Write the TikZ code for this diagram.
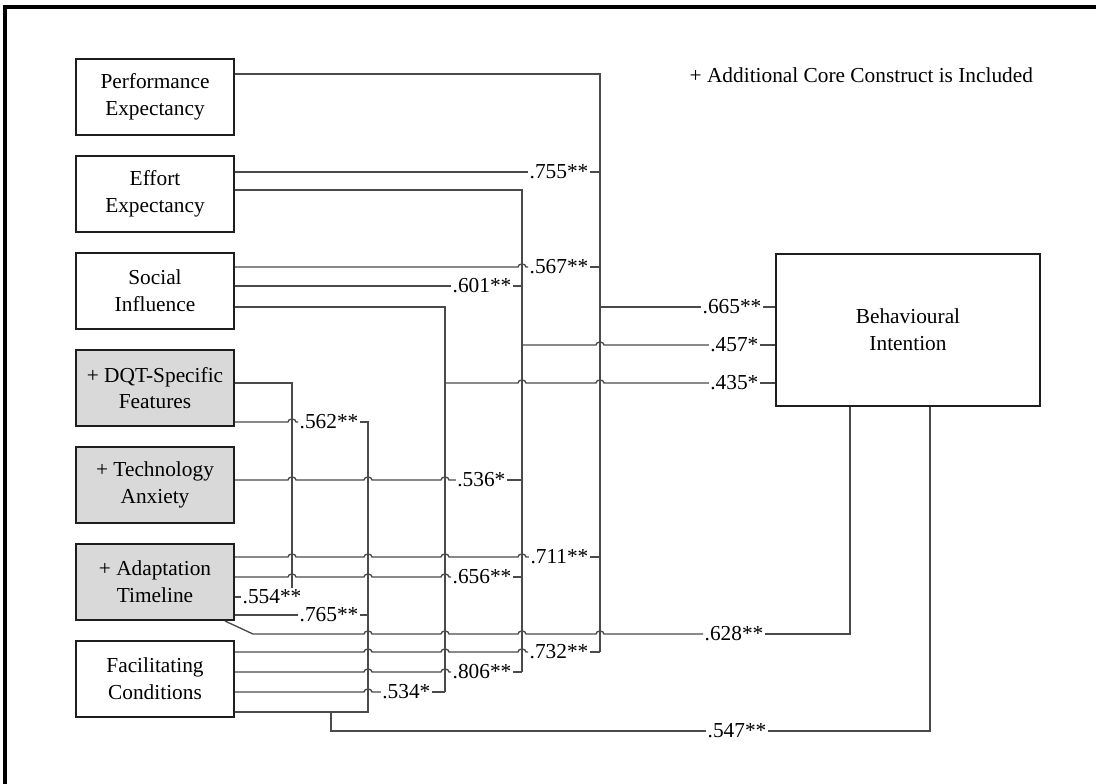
\documentclass[tikz,border=0pt]{standalone}
\usepackage{fontspec}
\setmainfont{Liberation Serif}
\usetikzlibrary{calc,positioning}
\definecolor{Ink}{HTML}{1E1E1E}
\definecolor{Wire}{HTML}{4A4A4A}
\definecolor{Shade}{HTML}{D9D9D9}
\tikzset{
  construct/.style={
    draw=Ink, line width=1.6pt, fill=white, align=center,
    minimum width=118.5pt, minimum height=57pt, inner sep=2pt,
    font=\fontsize{16}{20}\selectfont
  },
  added/.style={construct, fill=Shade},
  outcome/.style={construct, minimum width=198.5pt, minimum height=113.5pt},
  wire/.style={draw=Wire, line width=1pt},
  coef/.style={anchor=east, inner sep=1pt, font=\fontsize{16}{18}\selectfont},
  hop/.style={start angle=180, end angle=0, x radius=3pt, y radius=2.3pt}
}
\begin{document}
\begin{tikzpicture}[x=0.75pt,y=-0.75pt,node distance=14.15pt]
    \useasboundingbox (0,0) rectangle (1096,784);
    \draw[line width=3pt] (5,790) -- (5,7) -- (1100,7);

    % constructs
    \node[construct] (pe) at (155,97) {Performance\\Expectancy};
    \node[construct,below=of pe] (ee) {Effort\\Expectancy};
    \node[construct,below=of ee] (si) {Social\\Influence};
    \node[added,below=of si] (dqt) {+ DQT-Specific\\Features};
    \node[added,below=of dqt] (ta) {+ Technology\\Anxiety};
    \node[added,below=of ta] (at) {+ Adaptation\\Timeline};
    \node[construct,below=of at] (fc) {Facilitating\\Conditions};
    \node[outcome] (bi) at (908,330) {Behavioural\\Intention};
    \node[anchor=west,font=\fontsize{16}{20}\selectfont] (note) at (685,75)
      {+ Additional Core Construct is Included};

    % bus columns
    \coordinate (xdqt) at (292,0);
    \coordinate (xfc) at (368,0);
    \coordinate (xsi) at (445,0);
    \coordinate (xee) at (522,0);
    \coordinate (xpe) at (600,0);
    \coordinate (xbia) at (850,0);
    \coordinate (xbib) at (930,0);
    \coordinate (fcsplit) at (331,712);

    % coefficients
    \node[coef] (c755) at (590,172) {.755**};
    \node[coef] (c567) at (590,267) {.567**};
    \node[coef] (c601) at (513,286) {.601**};
    \node[coef] (c665) at (763,307) {.665**};
    \node[coef] (c457) at (760,345) {.457*};
    \node[coef] (c435) at (760,383) {.435*};
    \node[coef] (c562) at (360,422) {.562**};
    \node[coef] (c536) at (507,480) {.536*};
    \node[coef] (c711) at (590,557) {.711**};
    \node[coef] (c656) at (513,577) {.656**};
    \node[coef] (c554) at (303,597) {.554**};
    \node[coef] (c765) at (360,615) {.765**};
    \node[coef] (c628) at (765,634) {.628**};
    \node[coef] (c732) at (590,652) {.732**};
    \node[coef] (c806) at (513,672) {.806**};
    \node[coef] (c534) at (432,692) {.534*};
    \node[coef] (c547) at (768,731) {.547**};

    % performance expectancy
    \draw[wire] (pe.east |- 0,74) -| (600,652);
    \draw[wire] (ee.east |- 0,172) -- (c755);
    \draw[wire] (c755) -- (xpe |- c755);
    \draw[wire] (si.east |- 0,267) -- (518,267) arc[hop] -- (c567);
    \draw[wire] (c567) -- (xpe |- c567);
    \draw[wire] (xpe |- c665) -- (c665);
    \draw[wire] (c665) -- (bi.west |- c665);
    \draw[wire] (at.east |- 0,557)
      \foreach \h in {292,368,445,522} {-- (\h-4,557) arc[hop]} -- (c711);
    \draw[wire] (c711) -- (xpe |- c711);
    \draw[wire] (fc.east |- 0,652)
      \foreach \h in {368,445,522} {-- (\h-4,652) arc[hop]} -- (c732);
    \draw[wire] (c732) -- (xpe |- c732);

    % effort expectancy
    \draw[wire] (ee.east |- 0,190) -| (522,672);
    \draw[wire] (si.east |- 0,286) -- (c601);
    \draw[wire] (c601) -- (xee |- c601);
    \draw[wire] (xee |- c457) -- (596,345) arc[hop] -- (c457);
    \draw[wire] (c457) -- (bi.west |- c457);
    \draw[wire] (ta.east |- 0,480)
      \foreach \h in {292,368,445} {-- (\h-4,480) arc[hop]} -- (c536);
    \draw[wire] (c536) -- (xee |- c536);
    \draw[wire] (at.east |- 0,577)
      \foreach \h in {292,368,445} {-- (\h-4,577) arc[hop]} -- (c656);
    \draw[wire] (c656) -- (xee |- c656);
    \draw[wire] (fc.east |- 0,672)
      \foreach \h in {368,445} {-- (\h-4,672) arc[hop]} -- (c806);
    \draw[wire] (c806) -- (xee |- c806);

    % social influence
    \draw[wire] (si.east |- 0,307) -| (445,692);
    \draw[wire] (xsi |- c435)
      \foreach \h in {522,600} {-- (\h-4,383) arc[hop]} -- (c435);
    \draw[wire] (c435) -- (bi.west |- c435);
    \draw[wire] (fc.east |- 0,692) -- (364,692) arc[hop] -- (c534);
    \draw[wire] (c534) -- (xsi |- c534);

    % dqt-specific features
    \draw[wire] (dqt.east |- 0,383) -| (c554.north -| xdqt);
    \draw[wire] (at.east |- 0,597) -- (c554);

    % facilitating conditions
    \draw[wire] (dqt.east |- 0,422) -- (288,422) arc[hop] -- (c562);
    \draw[wire] (c562) -| (xfc |- fcsplit) -- (fc.east |- fcsplit);
    \draw[wire] (at.east |- 0,615) -- (c765);
    \draw[wire] (c765) -- (xfc |- c765);
    \draw[wire] (fcsplit) |- (c547);
    \draw[wire] (c547) -| (xbib |- bi.south);

    % adaptation timeline to intention
    \draw[wire] ($(at.south east)+(-10,0)$) -- (253,634)
      \foreach \h in {368,445,522,600} {-- (\h-4,634) arc[hop]} -- (c628);
    \draw[wire] (c628) -| (xbia |- bi.south);
  \end{tikzpicture}
\end{document}
